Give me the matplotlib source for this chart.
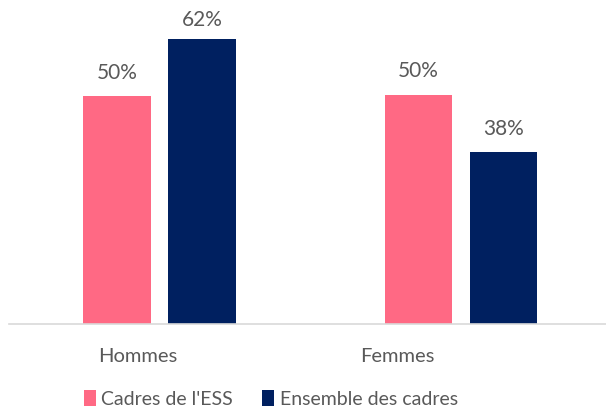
import matplotlib.pyplot as plt
import numpy as np

groupes = ["Hommes", "Femmes"]
ess = [49.8, 50.2]
ensemble = [62.4, 37.6]
etiquettes_ess = ["50%", "50%"]
etiquettes_ensemble = ["62%", "38%"]

rose = "#FF6984"
marine = "#002060"
gris = "#595959"

plt.rcParams['font.family'] = ['Lato', 'DejaVu Sans']

fig = plt.figure(figsize=(6.06, 4.11), dpi=100)
ax = fig.add_axes([9 / 606, 1 - 324 / 411, 597 / 606, 324 / 411])

x = np.arange(len(groupes))
w = 0.224
off = 0.141
b1 = ax.bar(x - off, ess, w, color=rose, label="Cadres de l'ESS")
b2 = ax.bar(x + off, ensemble, w, color=marine, label="Ensemble des cadres")

# l'étiquette 62% est rabaissée pour rester dans la zone de tracé
decalages = [[9.5, 9.5], [6, 9.5]]
for bars, labs, dec in zip([b1, b2], [etiquettes_ess, etiquettes_ensemble], decalages):
    for b, t, d in zip(bars, labs, dec):
        ax.annotate(t, (b.get_x() + b.get_width() / 2, b.get_height()),
                    xytext=(0, d), textcoords="offset points",
                    ha="center", va="bottom", fontsize=15, color=gris,
                    annotation_clip=False)

ax.set_xlim(-0.499, 1.481)
ax.set_ylim(0, 324 / 4.57)
# les libellés de catégories sont décalés à gauche dans l'original
ax.set_xticks(x + np.array([-0.073, -0.212]))
ax.set_xticklabels(groupes, fontsize=14.5, color=gris)
ax.tick_params(axis="x", length=0, pad=17.5)
ax.set_yticks([])
for s in ["top", "right", "left"]:
    ax.spines[s].set_visible(False)
ax.spines["bottom"].set_color("#D9D9D9")
ax.spines["bottom"].set_linewidth(1.2)

fig.legend(loc="center", bbox_to_anchor=(271 / 606, 1 - 399 / 411),
           ncol=2, frameon=False, fontsize=14, labelcolor=gris,
           handlelength=0.62, handleheight=0.85, handletextpad=0.3,
           columnspacing=1.5)

fig.savefig("out.png", dpi=100)
